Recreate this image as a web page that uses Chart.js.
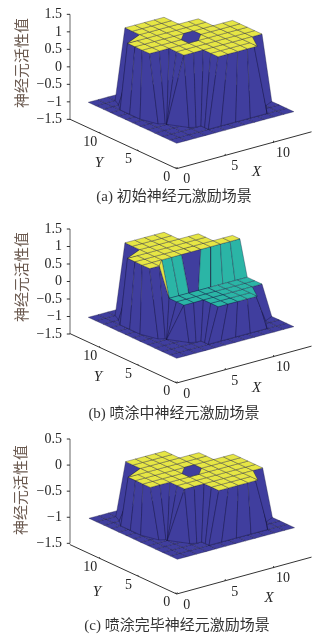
<!DOCTYPE html>
<html><head><meta charset="utf-8">
<style>html,body{margin:0;padding:0;background:#fff;overflow:hidden}canvas{position:absolute;left:0}</style>
<script src="https://cdn.jsdelivr.net/npm/chart.js@4"></script></head>
<body>
<canvas id="a" width="321" height="210" style="top:0"></canvas>
<canvas id="b" width="321" height="215" style="top:210px"></canvas>
<canvas id="c" width="321" height="211" style="top:425px"></canvas>
<script>
// ---- data ----
const gridValues = [1,2,3,4,5,6,7,8,9,10,11,12,13];
const floorLevel = -1;
const xTicks = [0,5,10];
const yTicks = [0,5,10];
const zTicksAB = [1.5,1,0.5,0,-0.5,-1,-1.5];
const zTicksC = [0.5,0,-0.5,-1,-1.5];
const captions = ['(a) 初始神经元激励场景','(b) 喷涂中神经元激励场景','(c) 喷涂完毕神经元激励场景'];
// plate rows: [y, xFrom, xTo]
const plateRowsFull = [[2,6,10],[3,6,10],[4,4,12],[5,4,12],[6,2,12],[7,2,12],[8,2,10],[9,4,10],[10,4,8],[11,4,8]];
const plateRowsHigh = [[6,2,3],[7,2,12],[8,2,10],[9,4,10],[10,4,8],[11,4,8]];
const plateRowsLow = [[2,6,10],[3,6,10],[4,4,12],[5,4,12]];
// triangles at the plate corners: [x,y] vertices
const leftCorner = [[2,9],[4,9],[4,10]];
const rightCorner = [[10,2],[10,4],[11,4]];
const pit = [[7,8],[8,8],[8,7],[7,6],[6,6],[6,7]];
// wall strip: top contour and foot contour
const wallTop = [[4,12],[4,10],[2,9],[2,8],[2,7],[2,6],[3,6],[4,6],[4,5],[4,4],[4,4],[5,4],[6,4],[6,3],[6,2],[7,2],[8,2],[9,2],[10,2],[11,4],[12,4]];
const wallFoot = [[3,12],[2.6,11],[2,10],[2,8.7],[2,7.3],[2.5,5.5],[3,5.2],[3,5],[3,5],[3,5],[4,3.3],[4.5,3],[5,3],[5,2.5],[5,2],[6.3,2],[7.8,2],[9.3,2],[11,2],[12,3.5],[13,4]];
// top height of each wall strip point for the mid-spraying scene
const wallTopZB = [1,1,1,1,1,1,1,0,0,0,0,0,0,0,0,0,0,0,0,0,0];
// mid-spraying step between the high and low plate
const stepTopXLeft = [4,5,6];
const stepFootXLeft = [4,5,6];
const stepTopXRight = [8,9,10,11,12];
const stepFootXRight = [7,8.25,9.5,10.75,12];
const stepTopY = 7, stepFootY = 6;
const highLevel = 1, lowLevel = 0, finalLevel = 0;

const NAVY='#403e9e', YELLOW='#e6e645', TEAL='#2bb5a6', EDGE='rgba(15,15,50,.6)';
const panels = [
 {id:'a',h:210,O:[522.8,448],zs:105,aO:[530,506],zBot:358,zTicks:zTicksAB,cap:[174,197.5],X:[256.7,171.7],Y:[99,162.7],Z:[21,63]},
 {id:'b',h:215,O:[522.8,463],zs:105,aO:[530,519],zBot:372,zTicks:zTicksAB,cap:[174,204],X:[256.7,177.7],Y:[98,166.7],Z:[21,67]},
 {id:'c',h:211,O:[524.8,421],zs:156.5,aO:[530,507],zBot:355,zTicks:zTicksC,cap:[177,201],X:[269,172.7],Y:[97,166.7],Z:[20,65]}
];
function build(p,idx){
  const proj=(x,y,z)=>({x:(p.O[0]+29.3*x-22.1*y)/3,y:(p.O[1]-7.9*x-10.25*y-(z-floorLevel)*p.zs)/3});
  const axisP=(x,y)=>({x:(p.aO[0]+28.9*x-22.9*y)/3,y:(p.aO[1]-7.9*x-10.6*y)/3});
  const ds=[];
  const poly=(pts,color,edge)=>ds.push({data:[...pts,pts[0]],backgroundColor:color,borderColor:edge||EDGE,borderWidth:0.55,fill:'shape',showLine:true,pointRadius:0,tension:0});
  const line=(a,b,c,w)=>ds.push({data:[a,b],borderColor:c||'#333',borderWidth:w||1,showLine:true,pointRadius:0,fill:false});
  // axes
  const zAxisX=210/3;
  const zPix=z=>({x:zAxisX,y:(p.zBot-(z+1.5)*p.zs)/3});
  line(zPix(p.zTicks[p.zTicks.length-1]),zPix(p.zTicks[0]),'#666',1);
  p.zTicks.forEach(t=>{const a=zPix(t);line(a,{x:a.x+ -3.2,y:a.y},'#333',1);});
  line(axisP(0,0),axisP(14,0),'#333',1);
  line(axisP(0,0),axisP(0,14),'#333',1);
  xTicks.forEach(t=>{const a=axisP(t,0);line(a,{x:a.x+0.6,y:a.y-1.6},'#333',1);});
  yTicks.forEach(t=>{const a=axisP(0,t);line(a,{x:a.x-1,y:a.y-1.4},'#333',1);});
  // floor
  for(let i=0;i<gridValues.length-1;i++)for(let j=0;j<gridValues.length-1;j++){
    const x0=gridValues[i],x1=gridValues[i+1],y0=gridValues[j],y1=gridValues[j+1];
    poly([proj(x0,y0,floorLevel),proj(x1,y0,floorLevel),proj(x1,y1,floorLevel),proj(x0,y1,floorLevel)],NAVY);
  }
  const rows=(r,z,c)=>r.forEach(([y,a,b])=>{for(let x=a;x<b;x++)poly([proj(x,y,z),proj(x+1,y,z),proj(x+1,y+1,z),proj(x,y+1,z)],c);});
  const tri=(t,z,c)=>poly(t.map(q=>proj(q[0],q[1],z)),c);
  const walls=zf=>{for(let i=0;i<wallTop.length-1;i++){
    poly([proj(wallFoot[i][0],wallFoot[i][1],floorLevel),proj(wallFoot[i+1][0],wallFoot[i+1][1],floorLevel),
          proj(wallTop[i+1][0],wallTop[i+1][1],zf(i+1)),proj(wallTop[i][0],wallTop[i][1],zf(i))],NAVY);}};
  if(idx===1){
    walls(i=>wallTopZB[i]);
    poly([proj(6,stepTopY,highLevel),proj(7,8,highLevel),proj(8,8,highLevel),proj(8,stepTopY,highLevel),proj(7,stepFootY,lowLevel),proj(6,stepFootY,lowLevel)],NAVY);
    for(const [tp,ft] of [[stepTopXLeft,stepFootXLeft],[stepTopXRight,stepFootXRight]])
      for(let i=0;i<tp.length-1;i++)
        poly([proj(ft[i],stepFootY,lowLevel),proj(ft[i+1],stepFootY,lowLevel),proj(tp[i+1],stepTopY,highLevel),proj(tp[i],stepTopY,highLevel)],TEAL);
    rows(plateRowsHigh,highLevel,YELLOW);
    tri(leftCorner,highLevel,YELLOW);
    poly([proj(3,6,highLevel),proj(3,7,highLevel),proj(4,7,highLevel)],YELLOW);
    poly([proj(3,6,highLevel),proj(4,7,highLevel),proj(4,6,lowLevel)],YELLOW);
    rows(plateRowsLow,lowLevel,TEAL);
    tri(rightCorner,lowLevel,TEAL);
  } else {
    const top=idx===0?highLevel:finalLevel;
    walls(()=>top);
    rows(plateRowsFull,top,YELLOW);
    tri(leftCorner,top,YELLOW);
    tri(rightCorner,top,YELLOW);
    tri(pit,top,NAVY);
  }
  // chart draws the first dataset last, so reverse the painter's order
  ds.reverse();
  const textPlugin={id:'labels',afterDatasetsDraw(ch){
    const c=ch.ctx,sx=ch.scales.x,sy=ch.scales.y;
    const T=(s,q,o={})=>{c.save();c.font=o.font||'14px "Liberation Serif","Noto Sans CJK SC"';c.fillStyle=o.color||'#262626';
      c.textAlign=o.align||'center';c.textBaseline='middle';c.translate(sx.getPixelForValue(q.x),sy.getPixelForValue(q.y));
      if(o.rot)c.rotate(o.rot);c.fillText(s,0,0);c.restore();};
    p.zTicks.forEach(t=>{const a=zPix(t);T(String(t).replace('-','−'),{x:a.x-8,y:a.y},{align:'right'});});
    xTicks.forEach(t=>{const a=axisP(t,0);T(String(t),{x:a.x+10,y:a.y+11});});
    yTicks.forEach(t=>{const a=axisP(0,t);T(String(t),{x:a.x-10,y:a.y+8.5});});
    T('X',{x:p.X[0],y:p.X[1]},{font:'italic 15px "Liberation Serif"'});
    T('Y',{x:p.Y[0],y:p.Y[1]},{font:'italic 15px "Liberation Serif"'});
    T('神经元活性值',{x:p.Z[0],y:p.Z[1]},{rot:-Math.PI/2,color:'#6b5a50',font:'15px "Noto Sans CJK SC"'});
    T(captions[idx],{x:p.cap[0],y:p.cap[1]},{font:'15px "Liberation Serif","Noto Sans CJK SC"',color:'#333'});
  }};
  new Chart(document.getElementById(p.id),{type:'scatter',data:{datasets:ds},plugins:[textPlugin],options:{
    responsive:false,animation:false,events:[],layout:{padding:0},
    plugins:{legend:{display:false},tooltip:{enabled:false}},
    scales:{x:{type:'linear',min:0,max:321,display:false},y:{type:'linear',min:0,max:p.h,reverse:true,display:false}}}});
}
panels.forEach(build);
</script></body></html>
